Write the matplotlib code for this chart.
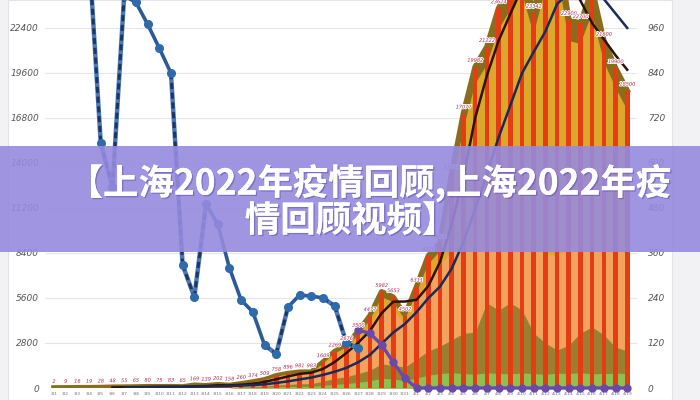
import matplotlib
matplotlib.use("Agg")
import matplotlib.pyplot as plt
import matplotlib.patheffects as pe
from matplotlib.patches import Rectangle
import numpy as np

# 3/1 - 4/19
days = ["3/1", "3/2", "3/3", "3/4", "3/5", "3/6", "3/7", "3/8", "3/9", "3/10",
        "3/11", "3/12", "3/13", "3/14", "3/15", "3/16", "3/17", "3/18", "3/19", "3/20",
        "3/21", "3/22", "3/23", "3/24", "3/25", "3/26", "3/27", "3/28", "3/29", "3/30",
        "3/31", "4/1", "4/2", "4/3", "4/4", "4/5", "4/6", "4/7", "4/8", "4/9",
        "4/10", "4/11", "4/12", "4/13", "4/14", "4/15", "4/16", "4/17", "4/18", "4/19"]

# daily new cases (bars)
daily = [2, 9, 16, 19, 28, 48, 55, 65, 80, 75,
         83, 65, 169, 139, 202, 158, 260, 374, 509, 758,
         896, 981, 983, 1609, 2269, 2676, 3500, 4477, 5982, 5653,
         4502, 6311, 8226, 9006, 13354, 17077, 19982, 21222, 23624, 24943,
         26087, 23342, 26330, 27719, 22900, 22700, 24800, 21600, 19900, 18500]

# decorative area layers behind the bars
area_gold = [0, 0, 0, 0, 0, 0, 0, 0, 0, 0,
             0, 0, 0, 0, 0, 0, 240, 350, 480, 700,
             840, 920, 930, 1520, 2150, 2520, 3300, 4200, 5650, 5350,
             4250, 5950, 7700, 8500, 12600, 16100, 18900, 20100, 22300, 23500,
             24600, 22000, 24800, 26000, 21600, 21400, 23300, 20300, 18700, 17300]
area_orange = [0, 0, 0, 0, 0, 0, 0, 0, 0, 0,
               0, 0, 0, 0, 0, 0, 210, 320, 430, 650,
               770, 850, 860, 1400, 1980, 2330, 3050, 3900, 5150, 4900,
               3900, 5400, 6900, 7700, 8500, 8800, 8900, 8700, 8500, 8800,
               8600, 8900, 8400, 8200, 8800, 9000, 8700, 8800, 8600, 8900]
area_olive = [0, 0, 0, 0, 0, 0, 0, 0, 0, 0,
              0, 0, 0, 0, 0, 0, 60, 90, 120, 180,
              220, 260, 270, 420, 600, 700, 900, 1100, 1500, 1400,
              1300, 1800, 2300, 2600, 3000, 3400, 3480, 5300, 4850, 5300,
              4850, 3420, 2800, 2360, 2670, 3420, 3800, 3300, 2550, 2300]
area_green = [0, 0, 0, 0, 0, 0, 0, 0, 0, 0,
              0, 0, 0, 0, 0, 0, 30, 40, 50, 70,
              90, 100, 100, 160, 230, 270, 350, 450, 600, 560,
              450, 620, 800, 900, 950, 900, 850, 950, 900, 880,
              930, 900, 850, 920, 900, 950, 880, 900, 920, 900]

# moving averages (dark curves)
ma_short = [None, None, None, None, None, 30, 45, 55, 65, 75,
            80, 75, 105, 125, 170, 165, 205, 265, 380, 545,
            720, 880, 955, 1190, 1620, 2180, 2815, 3550, 4650, 5370,
            5380, 5490, 6350, 7850, 10200, 13150, 16800, 19430, 21600, 23260,
            24890, 24790, 25250, 25800, 25400, 24100, 22700, 21700, 20700, 19800]
ma_long = [None, None, None, None, None, None, 25, 34, 45, 53,
           62, 67, 82, 94, 112, 124, 147, 178, 230, 314,
           413, 534, 651, 816, 1011, 1257, 1602, 2057, 2754, 3451,
           3988, 4729, 5593, 6312, 7436, 9076, 11140, 13311, 15581, 17565,
           19576, 20901, 22180, 23878, 24600, 24900, 24950, 24200, 23300, 22400]

# blue line (index 3 .. 26) and its dash pattern per segment
blue_idx = list(range(3, 27))
blue_vals = [27000, 15240, 12500, 24400, 24000, 22640, 21150, 19590, 7650, 5660,
             11440, 10200, 7460, 5470, 4730, 2670, 2120, 5040, 5780, 5720,
             5600, 5100, 2800, 2490]
blue_dashed = [True, True, True, False, False, False, False, True, True, True,
               False, False, False, False, False, True, True, False, False, False,
               True, True, True]

# purple line (index 26 .. 49)
purple_idx = list(range(26, 50))
purple_vals = [3600, 3400, 2700, 1600, 600, 0, 0, 0, 0, 0,
               0, 0, 0, 0, 0, 0, 0, 0, 0, 0,
               0, 0, 0, 0]

left_ticks = [0, 2800, 5600, 8400, 11200, 14000, 16800, 19600, 22400]
right_ticks = [0, 120, 240, 360, 480, 600, 720, 840, 960]

title_l1 = "【上海2022年疫情回顾,上海2022年疫"
title_l2 = "情回顾视频】"

fig = plt.figure(figsize=(7, 4), dpi=100)
fig.patch.set_facecolor("#f2f2f5")
fig.add_artist(Rectangle((8 / 700, 0), 664 / 700, 1, transform=fig.transFigure,
                         facecolor="white", edgecolor="#e2e2e8", lw=0.8, zorder=0))

ax = fig.add_axes([44.6 / 700, 12 / 400, 592 / 700, 388 / 400])
ax.set_facecolor("none")
x = np.arange(len(days))
ymax = 24140

for y in left_ticks:
    ax.axhline(y, color="#e6e6ea", lw=0.8, zorder=0)

ax.fill_between(x, daily, color="#8a6d1c", lw=0, zorder=1)
ax.plot(x, daily, color="#8a6d1c", lw=4, zorder=1, solid_joinstyle="round")
ax.fill_between(x, area_gold, color="#dca82c", lw=0, zorder=2)
ax.fill_between(x, area_orange, color="#f2a45e", lw=0, zorder=3)
ax.fill_between(x, area_olive, color="#76701f", lw=0, zorder=4, alpha=0.7)
ax.fill_between(x, area_green, color="#8cc152", lw=0, zorder=5)

ax.bar(x, daily, width=0.4, color="#e63c14", zorder=6)

for i, v in enumerate(daily):
    ax.text(i, v + 250, str(v), ha="center", va="bottom", fontsize=3.6,
            color="#b0284a", style="italic", zorder=12, clip_on=True,
            path_effects=[pe.withStroke(linewidth=1.2, foreground="white")])

ms = [v if v is not None else np.nan for v in ma_short]
ml = [v if v is not None else np.nan for v in ma_long]
ax.plot(x, ms, color="#2a1408", lw=1.8, zorder=8)
ax.plot(x, ml, color="#1a2a5a", lw=1.8, zorder=8)

for k in range(len(blue_idx) - 1):
    xs = blue_idx[k:k + 2]
    ys = blue_vals[k:k + 2]
    if blue_dashed[k]:
        ax.plot(xs, ys, color="#4a78b8", lw=3.2, zorder=9)
        ax.plot(xs, ys, color="#1e3660", lw=2.2, ls=(0, (2, 1.2)), zorder=9)
    else:
        ax.plot(xs, ys, color="#2b5a98", lw=2.6, zorder=9)
ax.plot(blue_idx, blue_vals, ls="none", marker="o", ms=5.5, color="#2f6aab", zorder=10)

ax.plot(purple_idx, purple_vals, color="#6a4aa8", lw=2.4, marker="o", ms=5,
        zorder=10, clip_on=False)

ax.set_xlim(-0.8, 49.8)
ax.set_ylim(0, ymax)
ax.set_yticks(left_ticks)
ax.set_yticklabels([str(t) for t in left_ticks], fontsize=6.5, style="italic",
                   color="#555555")
ax.set_xticks(x)
ax.set_xticklabels(days, fontsize=3.2, color="#7a6a8a")
ax.tick_params(axis="both", length=0)
ax.tick_params(axis="y", pad=4)
ax.tick_params(axis="x", pad=3)
for s in ax.spines.values():
    s.set_visible(False)

ax2 = ax.twinx()
ax2.set_ylim(0, ymax / 23.3333)
ax2.set_yticks(right_ticks)
ax2.set_yticklabels([str(t) for t in right_ticks], fontsize=6.5, style="italic",
                    color="#555555")
ax2.tick_params(axis="y", length=0, pad=8)
for s in ax2.spines.values():
    s.set_visible(False)

# banner overlay
fig.add_artist(Rectangle((0, 148 / 400), 1, 106 / 400, transform=fig.transFigure,
                         facecolor="#968ade", alpha=0.9, lw=0, zorder=20))
shadow = [pe.withSimplePatchShadow(offset=(1, -1), shadow_rgbFace="#5a4fa0", alpha=0.5),
          pe.Normal()]
fig.text(369 / 700, 1 - 183 / 400, title_l1, ha="center", va="center",
         fontsize=25.5, fontweight="bold", color="white",
         family=["Noto Sans CJK SC", "DejaVu Sans"], zorder=21, path_effects=shadow)
fig.text(351 / 700, 1 - 221 / 400, title_l2, ha="center", va="center",
         fontsize=25.5, fontweight="bold", color="white",
         family=["Noto Sans CJK SC", "DejaVu Sans"], zorder=21, path_effects=shadow)

fig.savefig("out.png", dpi=100)
